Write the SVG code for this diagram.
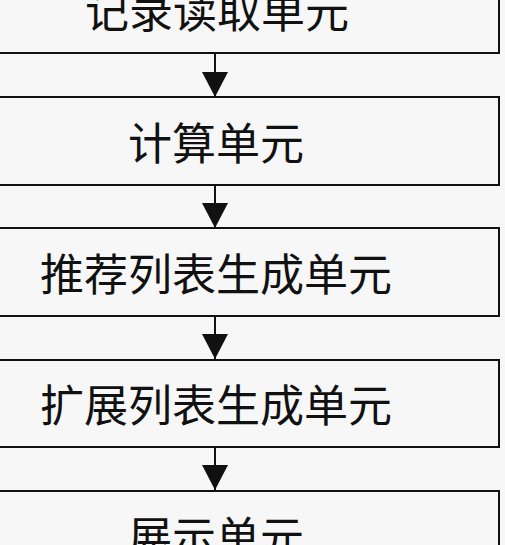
<svg xmlns="http://www.w3.org/2000/svg" width="505" height="545" viewBox="0 0 505 545">
<defs>
<style>
.box{fill:#f7f7f7;stroke:#111;stroke-width:2}
.lbl{font-family:"Noto Sans CJK SC","Noto Sans",sans-serif;font-size:44px;fill:#111;text-anchor:middle;dominant-baseline:central}
.conn{stroke:#111;stroke-width:2;fill:none}
</style>
<marker id="arr" markerWidth="26" markerHeight="25" refX="13" refY="25" orient="auto" markerUnits="userSpaceOnUse" viewBox="0 0 26 25">
<path d="M0,0 L26,0 L13,25 Z" fill="#111"/>
</marker>
</defs>
<rect x="0" y="0" width="505" height="545" fill="#f7f7f7"/>
<g id="n1"><rect class="box" x="-70" y="-35" width="569" height="88"/><text class="lbl" x="217" y="9">记录读取单元</text></g>
<g id="n2"><rect class="box" x="-70" y="97" width="569" height="88"/><text class="lbl" x="216" y="141">计算单元</text></g>
<g id="n3"><rect class="box" x="-70" y="228" width="569" height="88"/><text class="lbl" x="216" y="272">推荐列表生成单元</text></g>
<g id="n4"><rect class="box" x="-70" y="360" width="569" height="87"/><text class="lbl" x="216" y="403">扩展列表生成单元</text></g>
<g id="n5"><rect class="box" x="-70" y="491" width="569" height="88"/><text class="lbl" x="216" y="535">展示单元</text></g>
<g id="connectors">
<path class="conn" d="M215,53 V97" style="marker-end:none"/>
<path d="M202,72 L228,72 L215,97 Z" fill="#111"/>
<path class="conn" d="M215,185 V228"/>
<path d="M202,203 L228,203 L215,228 Z" fill="#111"/>
<path class="conn" d="M215,316 V360"/>
<path d="M202,334 L228,334 L215,359 Z" fill="#111"/>
<path class="conn" d="M215,447 V491"/>
<path d="M202,465 L228,465 L215,490 Z" fill="#111"/>
</g>
</svg>
